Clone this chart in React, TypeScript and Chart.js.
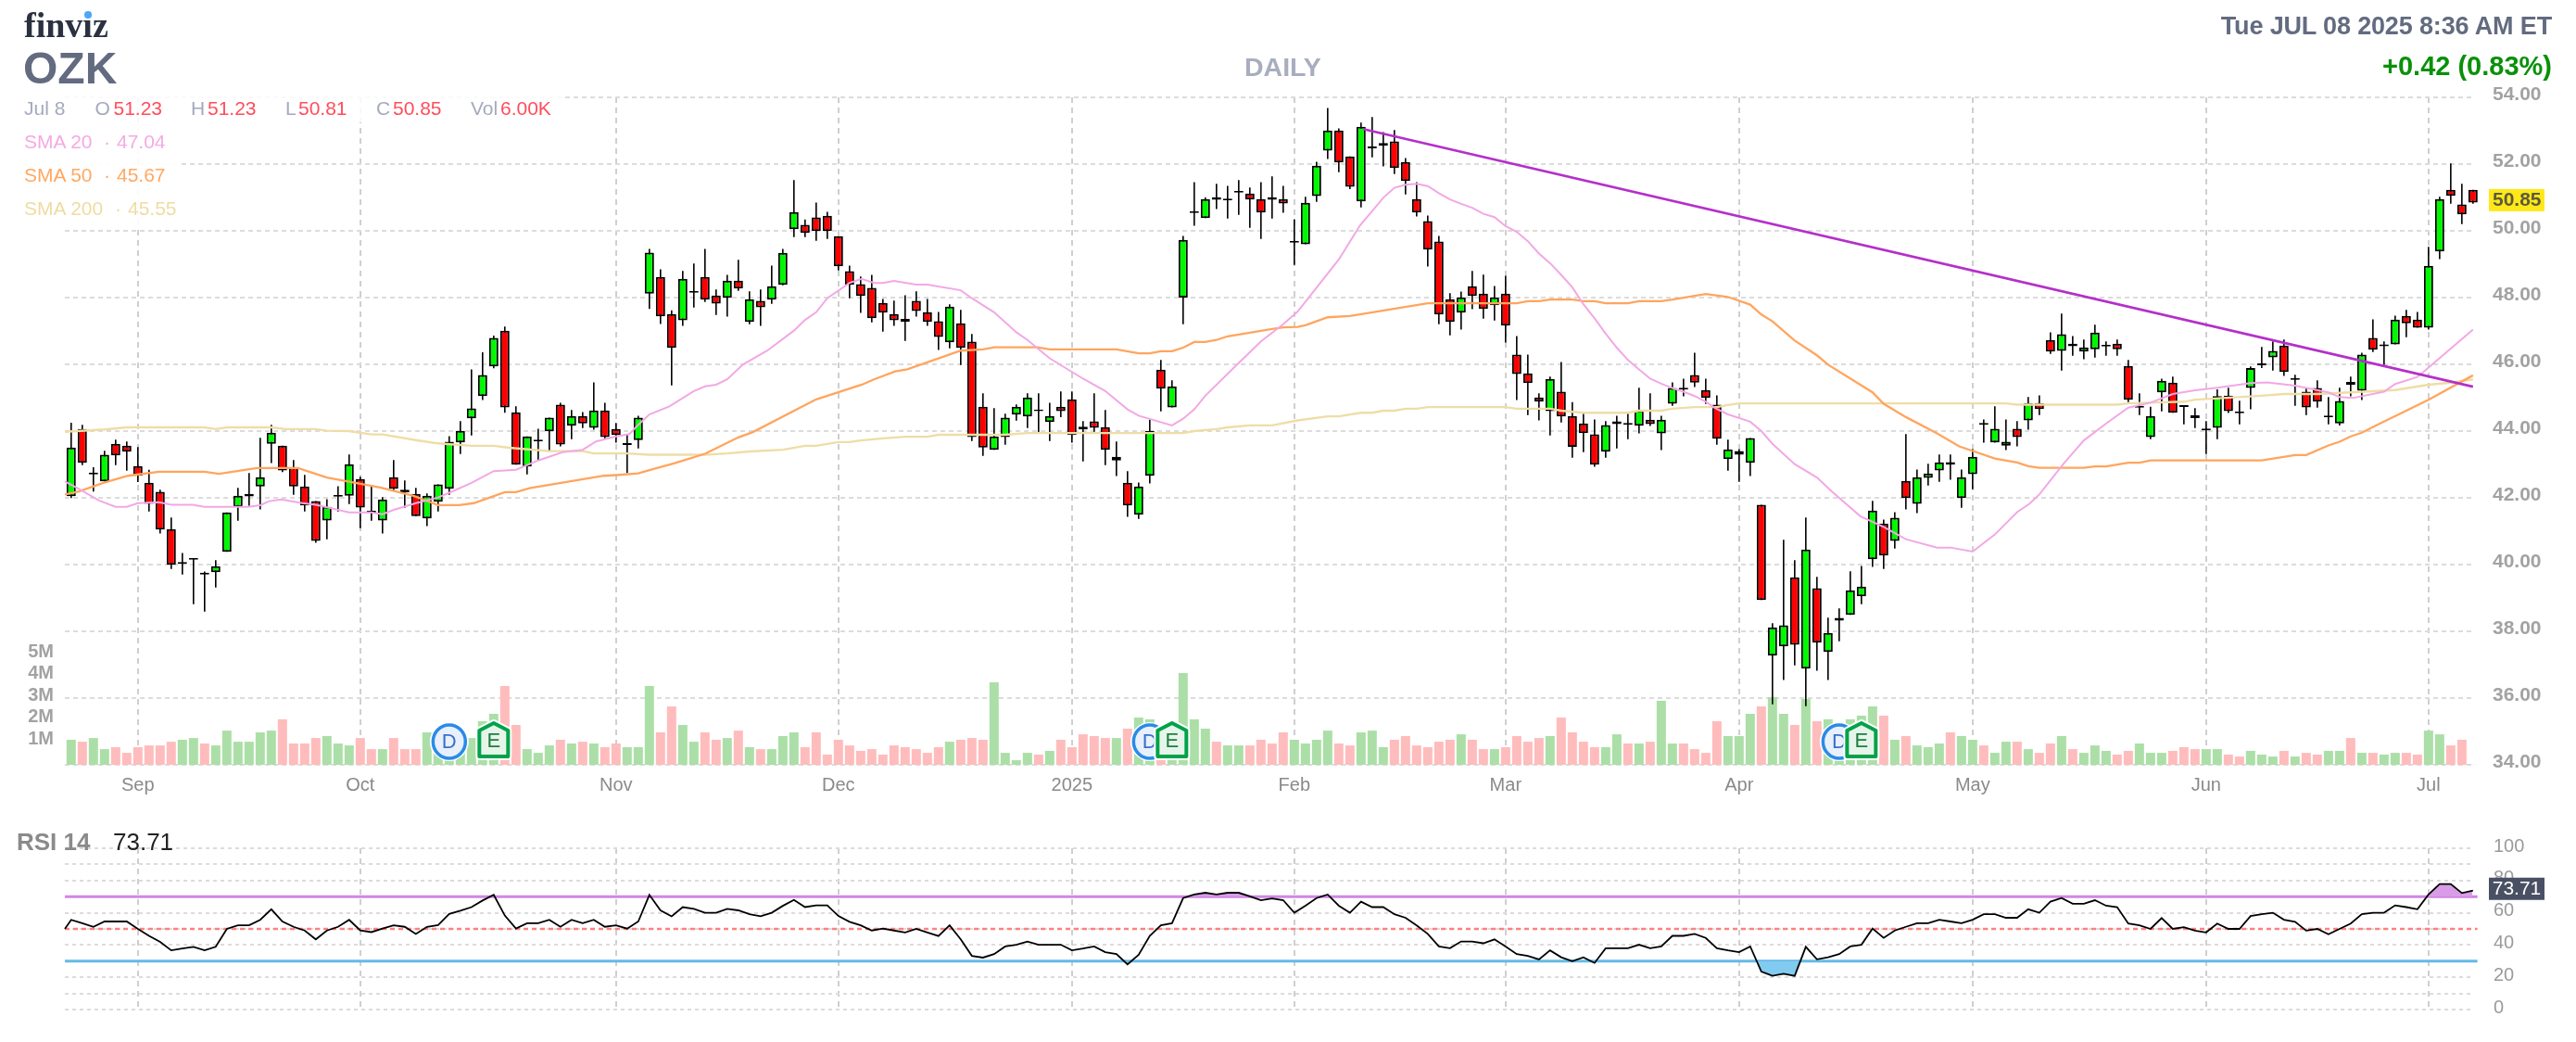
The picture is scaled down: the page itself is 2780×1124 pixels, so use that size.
import React, { useEffect, useRef } from "react";
import { Chart, registerables } from "chart.js";

Chart.register(...registerables);

// ---------- data ----------
const opens = [42.05,44.06,42.73,42.49,43.62,43.56,42.95,42.45,42.18,41.06,40.05,40.17,39.73,39.77,40.38,41.73,42.04,42.34,43.62,43.56,42.90,42.34,41.90,41.32,42.06,42.06,42.56,41.62,41.32,42.62,42.24,42.12,41.38,41.88,42.27,43.66,44.38,45.05,45.94,47.01,44.56,42.94,43.72,43.99,44.79,44.16,44.45,44.10,44.62,44.06,43.61,43.73,
48.12,48.62,47.51,47.32,48.17,48.62,48.06,47.99,48.51,47.27,47.90,47.94,48.38,50.05,50.18,50.40,50.45,49.84,48.79,48.40,48.29,47.84,47.51,47.28,47.90,47.56,47.29,46.66,47.23,46.68,44.73,43.44,43.82,44.49,44.44,44.62,44.27,44.73,44.95,44.05,44.29,44.12,43.12,42.45,41.49,42.66,45.84,44.71,48.00,50.56,50.38,50.93,50.94,51.17,51.12,50.95,50.93,50.95,49.67,
49.60,51.04,52.40,53.01,52.23,50.88,52.50,52.55,52.68,52.06,50.95,50.29,49.68,47.95,47.55,48.34,48.12,47.77,48.12,46.29,45.73,45.01,44.60,45.18,44.45,44.23,43.90,43.38,44.21,44.22,44.16,44.34,43.93,44.82,45.27,45.68,45.23,44.79,43.16,43.29,43.05,41.79,37.27,37.55,39.62,36.88,39.29,37.38,38.32,38.49,39.05,40.16,41.23,40.71,42.51,41.82,42.60,42.82,42.99,41.99,42.71,44.22,43.66,43.56,44.07,44.32,44.84,46.73,46.40,46.54,46.38,46.45,46.56,46.62,45.95,44.73,43.82,45.16,45.45,44.75,44.39,44.05,44.10,45.06,44.56,45.29,46.00,46.21,46.56,45.56,45.18,45.29,44.44,44.23,45.39,45.21,46.79,46.57,46.60,47.45,47.34,47.10,49.38,51.23,50.79,51.23];
const highs = [44.25,44.19,42.92,43.41,43.74,43.69,43.52,42.84,42.24,41.41,40.35,40.18,39.79,40.13,41.56,42.30,42.74,43.80,44.19,43.56,43.13,42.69,41.90,41.96,42.35,43.30,42.63,42.35,42.02,43.13,42.52,42.30,42.13,42.40,43.85,44.30,45.85,46.36,46.86,47.13,44.74,43.84,44.07,44.40,44.85,44.63,44.57,45.46,44.85,44.24,43.91,44.46,
49.46,48.85,47.62,48.80,49.02,49.46,48.24,48.68,49.13,48.19,48.24,48.96,49.46,51.52,50.34,50.85,50.57,49.84,48.96,48.63,48.68,47.96,47.91,48.07,48.19,47.96,47.57,47.80,47.63,46.91,45.13,44.69,44.52,44.80,45.13,45.13,44.85,45.19,45.19,44.30,45.13,44.63,43.69,42.80,42.46,44.35,46.13,45.52,49.85,51.46,51.00,51.41,51.35,51.52,51.30,51.46,51.63,51.35,50.35,
51.02,52.07,53.68,53.07,52.23,53.24,53.41,52.96,53.02,52.18,51.46,50.46,49.85,48.13,48.18,48.80,48.69,48.35,48.65,46.85,46.29,45.13,45.63,46.07,44.87,44.52,44.35,44.30,44.46,44.52,45.30,45.13,44.46,45.46,45.57,46.35,45.57,45.07,43.74,43.46,43.79,41.79,38.24,40.74,40.13,41.41,39.63,38.41,38.69,39.80,39.96,41.91,41.35,41.57,43.91,42.85,43.02,43.30,43.30,42.85,43.46,44.35,44.74,44.35,44.30,45.02,45.07,46.96,47.52,46.85,46.74,47.19,46.69,46.74,46.13,45.13,44.73,45.57,45.63,44.78,44.69,44.30,45.25,45.30,44.91,45.94,46.52,46.69,46.74,45.69,45.30,45.52,45.02,45.30,45.63,46.35,47.35,46.69,47.46,47.63,47.57,49.52,51.02,52.02,51.41,51.23];
const lows = [41.99,42.98,42.19,42.49,42.98,42.81,42.47,41.59,40.93,39.87,39.70,38.81,38.59,39.31,40.38,41.31,41.76,41.65,43.04,42.77,42.09,41.59,40.65,40.76,41.59,41.81,41.09,41.31,40.93,42.21,41.70,41.45,41.15,41.59,42.09,43.31,43.87,44.93,45.88,44.55,42.99,42.70,43.13,43.41,43.54,43.76,44.09,44.04,43.78,43.65,42.74,43.48,
47.66,47.21,45.37,47.15,47.70,47.87,47.48,47.43,48.20,47.20,47.15,47.81,48.37,49.81,49.81,49.70,49.76,48.81,47.98,47.54,47.26,46.98,47.15,46.70,47.43,47.15,46.43,46.48,45.98,43.70,43.26,43.44,43.59,44.31,44.09,43.93,43.70,44.42,43.65,43.09,43.98,42.98,42.65,41.43,41.37,42.43,44.59,44.71,47.20,50.15,50.38,50.65,50.37,50.48,50.09,49.76,50.37,50.54,48.98,
49.60,50.87,52.15,51.76,51.25,50.70,52.20,51.93,51.70,51.09,50.43,48.93,47.20,46.87,47.04,47.65,47.37,47.31,46.65,44.93,44.48,44.32,43.87,44.26,43.20,43.37,42.93,43.20,43.48,43.76,43.93,44.15,43.43,44.76,45.04,45.32,44.81,43.59,42.81,42.48,42.65,38.94,35.81,36.54,36.98,35.76,36.82,36.54,37.70,38.49,38.81,39.93,39.87,40.48,41.65,41.54,42.37,42.48,42.54,41.70,42.26,43.65,43.65,43.43,43.54,44.04,44.48,46.31,45.81,46.26,46.15,46.20,46.26,46.26,44.87,44.48,43.76,44.59,44.55,44.20,44.09,43.31,43.76,44.54,44.20,44.65,45.89,45.81,45.65,44.76,44.48,44.70,44.20,44.17,45.04,44.93,46.37,45.98,46.60,46.81,47.10,47.04,49.15,50.81,50.20,50.81];
const closes = [43.51,43.05,42.73,43.29,43.27,43.38,42.66,41.82,41.05,39.99,40.05,40.17,39.73,39.95,41.56,42.06,42.12,42.62,43.95,42.82,42.34,41.77,40.71,41.73,42.06,43.01,41.71,41.54,41.95,42.27,42.16,41.45,42.06,42.40,43.68,44.01,44.68,45.68,46.79,44.71,42.99,43.84,43.72,44.40,43.60,44.45,44.23,44.62,43.82,43.88,43.61,44.40,
49.35,47.44,46.49,48.56,48.17,47.94,47.82,48.51,48.27,47.95,47.71,48.34,49.34,50.56,49.94,49.99,49.99,48.94,48.38,48.05,47.38,47.55,47.32,47.36,47.60,47.27,46.82,47.73,46.49,43.82,43.51,43.84,44.40,44.73,45.01,44.62,44.45,44.60,43.88,44.13,44.10,43.44,43.23,41.77,42.34,44.01,45.27,45.34,49.73,50.56,50.95,51.01,50.94,51.17,50.94,50.55,51.01,50.82,49.67,
50.84,51.95,53.01,52.05,51.32,53.12,52.50,52.63,51.88,51.49,50.55,49.44,47.49,47.27,48.01,48.05,47.66,48.01,47.16,45.71,45.44,44.88,45.56,44.44,43.53,43.94,42.99,44.18,44.29,44.22,44.62,44.21,44.34,45.29,45.27,45.45,44.99,43.77,43.45,43.40,43.79,38.94,38.12,38.18,37.60,40.45,37.66,37.95,38.40,39.23,39.34,41.62,40.27,41.40,41.99,42.62,42.73,43.06,43.07,42.62,43.23,44.22,44.07,43.68,43.82,44.84,44.66,46.38,46.90,46.62,46.51,46.95,46.56,46.45,44.94,44.73,44.45,45.51,44.55,44.75,44.47,44.05,45.05,44.60,44.56,45.89,46.00,46.40,45.77,45.56,44.71,44.88,44.44,44.90,45.47,46.29,46.44,46.57,47.34,47.23,47.10,48.95,50.95,51.05,50.49,50.85];

const volumes = [1.15,1.06,1.23,0.72,0.81,0.55,0.81,0.89,0.89,1.06,1.15,1.23,0.98,0.89,1.57,1.06,1.06,1.49,1.57,2.09,0.98,0.98,1.23,1.32,0.98,0.89,1.23,0.72,0.72,1.23,0.72,0.72,1.49,1.0,1.1,1.2,1.23,2.0,2.34,3.62,1.83,0.72,0.55,0.89,1.15,0.98,1.06,0.98,0.81,0.98,0.81,0.81,3.62,1.49,2.68,1.83,1.06,1.49,1.15,1.23,1.57,0.81,0.72,0.72,1.32,1.49,0.81,1.49,0.47,1.15,0.89,0.64,0.72,0.47,0.89,0.81,0.72,0.55,0.81,1.06,1.15,1.23,1.15,3.79,0.55,0.21,0.55,0.47,0.64,1.15,0.81,1.40,1.32,1.23,1.23,1.66,2.17,2.09,0.6,0.6,4.21,2.09,1.66,1.06,0.89,0.89,0.89,1.15,0.98,1.49,1.15,0.98,1.15,1.57,0.98,0.89,1.49,1.57,0.81,1.15,1.32,0.89,0.81,1.06,1.15,1.40,1.15,0.72,0.72,0.81,1.32,1.06,1.23,1.32,2.17,1.49,1.06,0.81,0.81,1.40,0.98,0.98,1.06,2.94,0.98,0.98,0.72,0.55,2.0,1.32,1.32,2.34,2.68,3.11,2.34,1.83,3.02,2.0,2.09,1.0,2.09,2.26,2.68,2.26,1.15,1.32,0.89,0.81,0.98,1.49,1.32,1.15,0.89,0.55,1.06,1.06,0.72,0.55,0.98,1.32,0.72,0.55,0.89,0.64,0.47,0.64,0.98,0.55,0.55,0.64,0.81,0.72,0.72,0.72,0.47,0.38,0.64,0.47,0.38,0.64,0.38,0.55,0.47,0.64,0.64,1.23,0.55,0.55,0.47,0.55,0.55,0.47,1.57,1.40,0.89,1.15,0.006];
const volumeUp = [1,0,1,1,0,0,0,0,0,0,1,1,0,1,1,1,1,1,1,0,0,0,0,1,1,1,0,0,1,0,0,0,1,1,1,1,1,1,1,0,0,1,1,1,0,1,0,1,0,0,1,1,1,0,0,1,1,0,0,1,0,1,0,1,1,1,0,0,0,0,0,0,0,0,0,0,0,0,0,1,0,0,0,1,1,1,1,0,1,0,0,0,0,0,1,0,1,1,0,1,1,1,1,0,1,1,0,0,0,0,1,1,1,1,0,0,1,1,1,0,0,0,0,0,0,1,0,0,1,0,0,0,0,1,0,0,0,0,1,1,0,1,0,1,1,0,0,0,0,1,1,1,0,1,1,0,1,0,1,1,1,1,1,0,1,0,1,1,1,0,1,1,0,1,1,0,1,0,0,1,0,1,1,1,0,0,1,1,1,0,0,0,1,1,0,0,1,1,1,0,1,0,0,1,1,0,1,0,1,1,0,0,1,1,0,0,0];

const sma20Idx = [-0.56,0.7,2.5,4,5,6,7.9,9,10.9,12,15.9,17,17.8,18.9,20.8,22,25,27,28,29,31,33,34.2,36,38,40,42,44.2,46,47.2,49,50.2,51,52,53.8,56,57,58,59,60.4,62.6,65,66,67,68,70,71.1,72.2,73,74,76,77,80,81,83,85,86,88,91,93,95,96,99,100,101,102,105,107,109,110.3,111.8,114,115.9,118,119,120,121,122,123,124,125,126,127,128,129,130,131,132,133,134,135,136,137,138,139,140,141,142,143,144,145,146,147,148,149,151,152,153,155,157,158.3,160.9,163,165,167.8,169,171,173,175,176.1,177,179.2,181,183.1,185,187,189,191,193,196,197.5,200,203,204,205.2,208,209,211,212,216];
const sma20Vals = [42.49,42.27,41.92,41.73,41.73,41.84,41.87,41.79,41.79,41.73,41.73,41.78,41.9,41.95,41.84,41.79,41.56,41.56,41.51,41.64,41.84,42.01,42.18,42.45,42.8,42.84,43.12,43.37,43.44,43.69,43.84,43.91,44.19,44.5,44.74,45.2,45.34,45.39,45.55,45.99,46.41,47.01,47.33,47.56,47.98,48.44,48.56,48.44,48.44,48.5,48.39,48.39,48.22,47.98,47.56,46.96,46.73,46.18,45.57,45.2,44.65,44.46,44.17,44.37,44.65,45.06,46.04,46.69,47.2,47.58,48.21,49.14,50.16,50.99,51.29,51.38,51.41,51.34,51.13,50.94,50.81,50.69,50.51,50.41,50.14,49.97,49.69,49.32,49.03,48.68,48.31,47.8,47.38,46.92,46.5,46.13,45.85,45.57,45.42,45.29,45.18,45.05,44.88,44.66,44.5,44.28,44.0,43.62,43.01,42.61,42.2,41.45,41.13,40.76,40.51,40.51,40.39,40.9,41.57,41.82,42.1,43.03,43.72,44.25,44.7,44.85,45.11,45.22,45.3,45.44,45.46,45.36,45.16,45.02,44.99,45.18,45.41,45.62,45.9,47.04];

const sma50Idx = [-0.56,0.7,2.9,5.1,7.9,12,13.3,16.7,20.4,23,27.8,30.8,33,34.9,36.2,39,40,41.2,47.9,49,51,52,54.2,57,60,61.3,67,71.1,72.2,74.1,75.2,80,82,83,86.9,88,94,96,97,98,99,100,101,102,103,104,108,109,110.3,111,113,115,122,130,131,132,133,135,136,137,138,140,141,143,144,147,149,151,152,153,155,157,158,162,163,165,167.8,169.8,173,175,176,177,181,182,183,185,186,187,197,200,201,203,204,205,206,207.1,212,216];
const sma50Vals = [42.10,42.19,42.45,42.66,42.78,42.78,42.72,42.89,42.89,42.61,42.31,42.06,41.78,41.78,41.84,42.17,42.17,42.29,42.66,42.68,42.73,42.83,43.03,43.32,43.81,43.97,44.95,45.39,45.55,45.79,45.85,46.41,46.45,46.51,46.51,46.45,46.45,46.33,46.33,46.39,46.39,46.5,46.67,46.67,46.73,46.84,47.06,47.11,47.12,47.17,47.41,47.45,47.83,47.83,47.89,47.89,47.94,47.94,47.89,47.89,47.83,47.83,47.89,47.89,47.94,48.11,48.02,47.79,47.49,47.29,46.71,46.27,45.99,45.16,44.82,44.42,43.93,43.54,43.18,43.06,42.95,42.9,42.9,42.94,42.94,43.05,43.05,43.12,43.12,43.28,43.28,43.57,43.68,43.84,43.95,44.14,44.94,45.67];

const sma200Idx = [-0.56,3,5,12,13,14,18,19.3,22,23,25,27,28,31,33,36,38,39.4,43,46,47,50,52,57,59,61,64,66,67,69,70,71,73,75,77,78,81,84,86,100,101,103,104,106,108,110.3,113,114,116,117,118,119,120,121,122,129,130,133,134,136,140,141,143,144,146,148,149,150,174,175,184,185,187,190,191,197,199,202,205,209,212,214,216];
const sma200Vals = [43.98,44.05,44.11,44.11,44.06,44.11,44.11,44.06,44.06,44.01,44.0,43.90,43.90,43.73,43.63,43.56,43.56,43.50,43.40,43.40,43.33,43.33,43.29,43.29,43.33,43.39,43.44,43.56,43.56,43.67,43.67,43.72,43.78,43.83,43.83,43.89,43.89,43.89,43.94,43.94,44.0,44.06,44.11,44.17,44.17,44.32,44.44,44.44,44.55,44.55,44.61,44.61,44.67,44.67,44.72,44.72,44.67,44.67,44.61,44.55,44.55,44.61,44.61,44.67,44.72,44.72,44.78,44.83,44.83,44.79,44.79,44.83,44.85,44.88,44.94,45.06,45.11,45.11,45.16,45.23,45.39,45.45,45.55];

const trendIdx = [116.2, 216];
const trendVals = [53.05, 45.33];

const rsiStart = 50;
const rsi = [55.6,53.5,51.3,54.6,54.6,54.6,50,45.7,42,36.7,37.8,38.9,36.7,38.9,50,52.2,52.2,55.6,62.2,54.6,51.3,49,43.5,49,51.3,55.6,49,48,50.2,52.2,51.3,46.9,51.3,52.4,59.3,61.3,63.5,67.6,71.1,58.3,50.2,53.5,53.5,55.6,51.3,55.6,53.5,55.6,51.3,52.2,50.2,54.6,71.1,61.5,57.8,63.5,62.4,60,60,62.4,61.5,59.1,57.8,60,64.3,68,63.5,64.6,64.6,58,54.4,52.2,49,50.2,49,47.8,50,47.8,45.6,52.2,43.5,33.3,32.2,34.4,39.1,40.2,42.2,40.2,40.2,40.2,36.7,37.8,39.1,35.6,34.4,28,33.9,45.7,52.2,53.5,69.1,71.3,72.4,71.3,72.4,72.4,70.2,67.8,68.9,67.8,60,64.4,69.1,71.3,64.4,60,66.9,63.5,63.5,59.1,56.9,52.2,46.9,39.1,38,42.2,42.2,41.1,43.5,39.1,34.4,33.3,31.1,36.7,32.4,30,32.4,28.9,38,38,38,40.2,38,39.1,45.7,45.7,46.9,44.4,38,36.7,35.6,39.1,23.5,20.9,22.2,20.9,38.9,31.1,32.4,34.4,39.1,40.2,50.2,44.4,49,51.3,53.5,53.5,55.7,54.6,53.5,55.7,59.1,59.1,56.9,56.9,62.2,60,66.9,69.1,65.6,65.6,67.8,64.4,63.5,53.3,52.2,50,56.7,50,51.1,48.9,47.8,53.3,50,50,58,59.1,60,55.7,54.4,48.9,50,46.7,50,53.3,59.1,60,60,64.6,63.5,62.2,71.3,77.8,77.8,72.2,73.71];

const monthIdx = [6, 26, 49, 69, 90, 110, 129, 150, 171, 192, 212];
const monthLabels = ["Sep", "Oct", "Nov", "Dec", "2025", "Feb", "Mar", "Apr", "May", "Jun", "Jul"];
const volumeTicks = [1, 2, 3, 4, 5];
const dividendIdx = [34, 97, 159];
const earningsIdx = [38, 99, 161];
const lastClose = 50.85;
const lastRsi = 73.71;

// ---------- styles ----------
const SANS = '"Liberation Sans", Arial, sans-serif';
const X_MIN = -0.5667;
const X_MAX = 215.93;
const GRID = "#dcdcdc";
const VGRID = "#cfcfcf";

const xTicks = (axis: any) => {
  axis.ticks = monthIdx.map((value) => ({ value }));
};

const pts = (xs: number[], ys: number[]) => xs.map((x, i) => ({ x, y: ys[i] }));

const lineDs = (data: any, color: string, width: number, order: number, extra: any = {}) => ({
  type: "line",
  data,
  borderColor: color,
  borderWidth: width,
  pointRadius: 0,
  tension: 0,
  fill: false,
  order,
  clip: false,
  yAxisID: "y",
  ...extra,
});

const barBase = {
  type: "bar",
  grouped: false,
  barPercentage: 1,
  categoryPercentage: 1,
  inflateAmount: 0,
  clip: false,
};

function drawDividend(ctx: CanvasRenderingContext2D, x: number, y: number) {
  ctx.save();
  ctx.beginPath();
  ctx.ellipse(x, y, 21, 21, 0, 0, Math.PI * 2);
  ctx.fillStyle = "#ffffff";
  ctx.fill();
  ctx.beginPath();
  ctx.ellipse(x, y, 17.5, 18, 0, 0, Math.PI * 2);
  ctx.fillStyle = "#e8f0fc";
  ctx.fill();
  ctx.lineWidth = 3.5;
  ctx.strokeStyle = "#2a8be8";
  ctx.stroke();
  ctx.fillStyle = "#3a6fcb";
  ctx.font = `22px ${SANS}`;
  ctx.textAlign = "center";
  ctx.textBaseline = "middle";
  ctx.fillText("D", x, y + 1);
  ctx.restore();
}

function drawEarnings(ctx: CanvasRenderingContext2D, x: number, y: number) {
  const w = 15.5;
  const path = () => {
    ctx.beginPath();
    ctx.moveTo(x, y - 18);
    ctx.lineTo(x + w, y - 10);
    ctx.lineTo(x + w, y + 18);
    ctx.lineTo(x - w, y + 18);
    ctx.lineTo(x - w, y - 10);
    ctx.closePath();
  };
  ctx.save();
  ctx.lineJoin = "round";
  path();
  ctx.strokeStyle = "#ffffff";
  ctx.lineWidth = 8;
  ctx.stroke();
  path();
  ctx.fillStyle = "#e6f5ea";
  ctx.fill();
  ctx.strokeStyle = "#00a24a";
  ctx.lineWidth = 4;
  ctx.stroke();
  ctx.fillStyle = "#1c7f3e";
  ctx.font = `22px ${SANS}`;
  ctx.textAlign = "center";
  ctx.textBaseline = "middle";
  ctx.fillText("E", x, y + 2);
  ctx.restore();
}

const priceOverlay = {
  id: "priceOverlay",
  afterDatasetsDraw(chart: any) {
    const { ctx, scales } = chart;
    dividendIdx.forEach((i) => drawDividend(ctx, scales.x.getPixelForValue(i), 800));
    earningsIdx.forEach((i) => drawEarnings(ctx, scales.x.getPixelForValue(i), 798));
    const y = scales.y.getPixelForValue(lastClose);
    ctx.save();
    ctx.fillStyle = "#ffe81a";
    ctx.fillRect(2686, y - 14.5, 60, 24);
    ctx.fillStyle = "#5c5a3e";
    ctx.font = `bold 21px ${SANS}`;
    ctx.textAlign = "left";
    ctx.textBaseline = "middle";
    ctx.fillText(lastClose.toFixed(2), 2690, y - 2);
    ctx.restore();
  },
};

const rsiOverlay = {
  id: "rsiOverlay",
  afterDatasetsDraw(chart: any) {
    const { ctx, scales } = chart;
    const y = scales.y.getPixelForValue(lastRsi);
    ctx.save();
    ctx.fillStyle = "#4a5063";
    ctx.fillRect(2686, y - 14, 60, 24);
    ctx.fillStyle = "#ffffff";
    ctx.font = `21px ${SANS}`;
    ctx.textAlign = "center";
    ctx.textBaseline = "middle";
    ctx.fillText(lastRsi.toFixed(2), 2716, y - 1.5);
    ctx.restore();
  },
};

function T({ x, base, size, color, bold, right, family, spacing, children }: any) {
  const style: any = {
    position: "absolute",
    top: base - 0.8465 * size,
    fontFamily: family || SANS,
    fontSize: size,
    lineHeight: `${size}px`,
    color,
    fontWeight: bold ? 700 : 400,
    whiteSpace: "nowrap",
    letterSpacing: spacing || 0,
  };
  if (right) style.right = 2780 - x;
  else style.left = x;
  return <div style={style}>{children}</div>;
}

export default function App() {
  const priceRef = useRef<HTMLCanvasElement>(null);
  const rsiRef = useRef<HTMLCanvasElement>(null);

  useEffect(() => {
    document.body.style.margin = "0";
    document.body.style.background = "#fff";
    const idx = opens.map((_, i) => i);
    const bodies = idx.map((i) => {
      const o = opens[i];
      const c = closes[i];
      return { x: i, y: Math.abs(o - c) < 0.05 ? [o - 0.026, o + 0.026] : [o, c] };
    });
    const price = new Chart(priceRef.current as any, {
      type: "bar",
      data: {
        datasets: [
          {
            ...barBase,
            data: idx.map((i) => ({ x: i, y: volumes[i] })),
            yAxisID: "yVol",
            backgroundColor: idx.map((i) => (volumeUp[i] ? "#abdfa7" : "#ffbcbc")),
            barThickness: 10,
            maxBarThickness: 10,
            order: 6,
          },
          {
            ...barBase,
            data: idx.map((i) => ({ x: i, y: [lows[i], highs[i]] })),
            yAxisID: "y",
            backgroundColor: "#000000",
            barThickness: 1.6,
            maxBarThickness: 1.6,
            order: 5,
          },
          {
            ...barBase,
            data: bodies,
            yAxisID: "y",
            backgroundColor: idx.map((i) => (closes[i] >= opens[i] ? "#00f800" : "#ff0000")),
            borderColor: "#000000",
            borderWidth: 2,
            borderSkipped: false,
            barThickness: 10,
            maxBarThickness: 10,
            order: 4,
          },
          lineDs(pts(sma200Idx, sma200Vals), "#efdda6", 2.4, 3),
          lineDs(pts(sma50Idx, sma50Vals), "#ffa55e", 2.3, 2),
          lineDs(pts(sma20Idx, sma20Vals), "#f2a8e4", 2, 1),
          lineDs(pts(trendIdx, trendVals), "#b52fca", 2.6, 0),
        ] as any,
      },
      options: {
        responsive: false,
        animation: false,
        devicePixelRatio: 1,
        layout: { padding: { top: 105, left: 0, right: 0, bottom: 0 } },
        plugins: { legend: { display: false }, tooltip: { enabled: false }, title: { display: false } },
        scales: {
          x: {
            type: "linear",
            offset: false,
            min: X_MIN,
            max: X_MAX,
            afterBuildTicks: xTicks,
            afterFit: (s: any) => {
              s.height = 35;
            },
            grid: { color: VGRID, lineWidth: 2, drawTicks: false, offset: false },
            border: { display: false, dash: [6, 5] },
            ticks: {
              autoSkip: false,
              maxRotation: 0,
              padding: 10,
              color: "#8a8a8a",
              font: { family: SANS, size: 20 },
              callback: (v: any) => monthLabels[monthIdx.indexOf(v)] ?? "",
            },
          },
          y: {
            type: "linear",
            position: "right",
            min: 34,
            max: 54,
            afterFit: (s: any) => {
              s.width = 112;
            },
            grid: { color: GRID, lineWidth: 2, drawTicks: false },
            border: { display: false, dash: [5, 4] },
            ticks: {
              stepSize: 2,
              padding: 22,
              crossAlign: "near",
              labelOffset: -3,
              color: "#a2a2a2",
              font: { family: SANS, size: 21, weight: "bold" },
              callback: (v: any) => Number(v).toFixed(2),
            },
          },
          yVol: {
            type: "linear",
            position: "left",
            min: 0,
            max: 30.64,
            afterBuildTicks: (a: any) => {
              a.ticks = volumeTicks.map((value) => ({ value }));
            },
            afterFit: (s: any) => {
              s.width = 70;
            },
            grid: { display: false },
            border: { display: false },
            ticks: {
              padding: 4,
              labelOffset: -4.5,
              autoSkip: false,
              color: "#a2a2a2",
              font: { family: SANS, size: 20, weight: "bold" },
              callback: (v: any) => `${v}M`,
            },
          },
        },
      } as any,
      plugins: [priceOverlay],
    });

    const rsiPts = [{ x: X_MIN, y: rsiStart }, ...idx.map((i) => ({ x: i, y: rsi[i] }))];
    const rsiChart = new Chart(rsiRef.current as any, {
      type: "line",
      data: {
        datasets: [
          lineDs(rsiPts, "#000000", 1.8, 0, {
            fill: { target: { value: 70 }, above: "#d99ce6", below: "rgba(0,0,0,0)" },
          }),
          lineDs(rsiPts, "rgba(0,0,0,0)", 0, 1, {
            fill: { target: { value: 30 }, above: "rgba(0,0,0,0)", below: "#82cbf0" },
          }),
          lineDs(pts([X_MIN, 216.4], [70, 70]), "#cf85e2", 3, 2),
          lineDs(pts([X_MIN, 216.4], [30, 30]), "#62b9e6", 3, 3),
          lineDs(pts([X_MIN, 216.4], [50, 50]), "#ff8080", 2.5, 4, { borderDash: [5, 4] }),
        ] as any,
      },
      options: {
        responsive: false,
        animation: false,
        devicePixelRatio: 1,
        layout: { padding: { top: 55, left: 70, right: 0, bottom: 29 } },
        plugins: { legend: { display: false }, tooltip: { enabled: false }, title: { display: false } },
        scales: {
          x: {
            type: "linear",
            offset: false,
            min: X_MIN,
            max: X_MAX,
            afterBuildTicks: xTicks,
            afterFit: (s: any) => {
              s.height = 0;
            },
            grid: { color: VGRID, lineWidth: 2, drawTicks: false, offset: false },
            border: { display: false, dash: [6, 5] },
            ticks: { display: false },
          },
          y: {
            type: "linear",
            position: "right",
            min: 0,
            max: 100,
            afterFit: (s: any) => {
              s.width = 112;
            },
            grid: { color: GRID, lineWidth: 2, drawTicks: false },
            border: { display: false, dash: [4, 4] },
            ticks: {
              stepSize: 10,
              padding: 23,
              crossAlign: "near",
              labelOffset: -2,
              autoSkip: false,
              color: "#9a9a9a",
              font: { family: SANS, size: 20 },
              callback: (v: any) => (Number(v) % 20 === 0 ? String(v) : ""),
            },
          },
        },
      } as any,
      plugins: [rsiOverlay],
    });
    return () => {
      price.destroy();
      rsiChart.destroy();
    };
  }, []);

  const gray = "#a4aabd";
  const red = "#ff4d5c";
  const slate = "#636b80";
  return (
    <div style={{ position: "relative", width: 2780, height: 1124, overflow: "hidden", background: "#fff" }}>
      <canvas ref={priceRef} width={2780} height={860} style={{ position: "absolute", left: 0, top: 0, width: 2780, height: 860 }} />
      <canvas ref={rsiRef} width={2780} height={264} style={{ position: "absolute", left: 0, top: 860, width: 2780, height: 264 }} />
      <div style={{ position: "absolute", left: 0, top: 100, width: 610, height: 32, background: "rgba(255,255,255,0.85)" }} />
      <div style={{ position: "absolute", left: 0, top: 132, width: 192, height: 112, background: "rgba(255,255,255,0.92)" }} />

      <T x={26} base={40} size={38} bold color="#2b3140" family='"Liberation Serif", serif'>finviz</T>
      <div style={{ position: "absolute", left: 91, top: 12, width: 7.5, height: 7.5, borderRadius: "50%", background: "#4ea7f5" }} />
      <T x={25} base={91} size={48} bold color={slate}>OZK</T>

      <T x={26} base={124} size={21} color={gray}>Jul 8</T>
      <T x={102.5} base={124} size={21} color={gray}>O</T>
      <T x={122.5} base={124} size={21} color={red}>51.23</T>
      <T x={206} base={124} size={21} color={gray}>H</T>
      <T x={224} base={124} size={21} color={red}>51.23</T>
      <T x={308} base={124} size={21} color={gray}>L</T>
      <T x={322} base={124} size={21} color={red}>50.81</T>
      <T x={406} base={124} size={21} color={gray}>C</T>
      <T x={424} base={124} size={21} color={red}>50.85</T>
      <T x={508} base={124} size={21} color={gray}>Vol</T>
      <T x={540} base={124} size={21} color={red}>6.00K</T>

      <T x={26} base={160} size={21} color="#f5aae3">SMA 20</T>
      <T x={112} base={160} size={21} color="#f5aae3">·</T>
      <T x={126} base={160} size={21} color="#f5aae3">47.04</T>
      <T x={26} base={196} size={21} color="#ffa862">SMA 50</T>
      <T x={112} base={196} size={21} color="#ffa862">·</T>
      <T x={126} base={196} size={21} color="#ffa862">45.67</T>
      <T x={26} base={232} size={21} color="#efdca3">SMA 200</T>
      <T x={124} base={232} size={21} color="#efdca3">·</T>
      <T x={138} base={232} size={21} color="#efdca3">45.55</T>

      <T x={1343} base={82} size={28.5} bold color="#a8aebf">DAILY</T>
      <T x={2754} base={38} size={27} bold right spacing={-0.15} color={slate}>Tue JUL 08 2025 8:36 AM ET</T>
      <T x={2754} base={82} size={29} bold right color="#0a900a">+0.42 (0.83%)</T>

      <T x={18} base={917} size={26} bold color="#8a8a8a">RSI 14</T>
      <T x={122} base={917} size={26} color="#222222">73.71</T>
    </div>
  );
}
